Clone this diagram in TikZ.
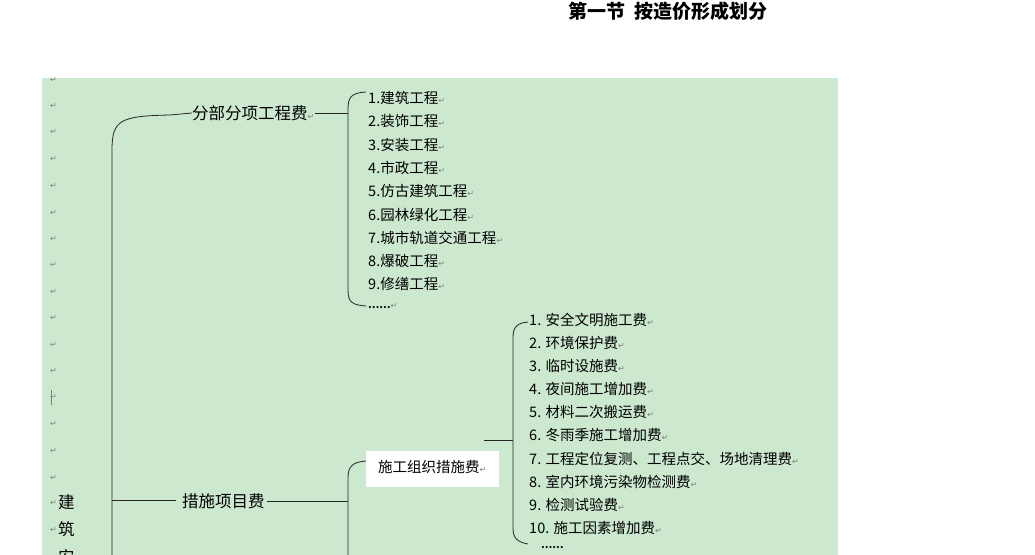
\documentclass[tikz,border=0pt]{standalone}
\usepackage{fontspec}
\setmainfont{Liberation Serif}
\newfontfamily\cjk{Noto Sans CJK SC}
\newfontfamily\dv{DejaVu Sans}
\begin{document}
\begin{tikzpicture}[x=1pt,y=-1pt,
  txt/.style={anchor=west,inner sep=0pt,font=\cjk\fontsize{14.5}{16}\selectfont},
  big/.style={anchor=west,inner sep=0pt,font=\cjk\fontsize{16.5}{18}\selectfont},
  ret/.style={anchor=west,inner sep=0pt,text=gray,font=\dv\fontsize{8}{9}\selectfont},
  ln/.style={line width=0.8pt,black!85}]
\useasboundingbox (0,0) rectangle (1035,554);
\clip (0,0) rectangle (1035,554);
\fill[white] (0,0) rectangle (1035,554);
\fill[fill={rgb,255:red,204;green,232;blue,207}] (42,78) rectangle (838,560);
\node[font=\cjk\bfseries\fontsize{19}{21}\selectfont,inner sep=0pt] (title) at (668,11) {第一节\ \ 按造价形成划分};
% left return marks
\foreach \y [count=\i] in {80,106,132,159,186,213,239,265,292,318,345,371,397,424,451,478,503,530}
  \node[ret] (r\i) at (50,\y) {↵};
\draw[gray,line width=0.5pt] (51,390)--(51,405);
\node[big] (jian) at (58,502) {建};
\node[big] (zhu) at (58,529) {筑};
\node[big] (an) at (58,557) {安};
% main nodes
\node[big] (fb) at (192,113) {分部分项工程费\textcolor{gray}{\dv\fontsize{8}{9}\selectfont↵}};
\node[big] (cs) at (182,501) {措施项目费};
\node[fill=white,inner sep=0pt,minimum width=133pt,minimum height=36pt] (zz) at (432,469) {};
\node[txt] (zzt) at (378,467) {施工组织措施费\textcolor{gray}{\dv\fontsize{8}{9}\selectfont↵}};
% big brace
\coordinate (b0) at (112,560);
\draw[ln] (b0) -- (112,150) .. controls (112,120) and (120,116) .. (170,115) -- (fb.west);
\draw[ln] (112,500) -- (176,500);
% 分部 brace
\draw[ln] (fb.east) -- (348,113);
\draw[ln] (366,92) .. controls (350,93) and (348,98) .. (348,110) -- (348,290) .. controls (348,302) and (352,305) .. (366,306);
\foreach \t [count=\i] in {1.建筑工程,2.装饰工程,3.安装工程,4.市政工程,5.仿古建筑工程,6.园林绿化工程,7.城市轨道交通工程,8.爆破工程,9.修缮工程}
  \node[txt] (a\i) at (368,98+23.3*\i-23.3) {\t\textcolor{gray}{\dv\fontsize{8}{9}\selectfont↵}};
\node[txt] (a10) at (368,306) {\textbf{\cjk\fontsize{10}{11}\selectfont ……}\textcolor{gray}{\dv\fontsize{8}{9}\selectfont↵}};
% 措施 brace
\draw[ln] (cs.east)++(2,0) -- (348,501);
\draw[ln] (366,461) .. controls (352,462) and (348,467) .. (348,478) -- (348,560);
\draw[ln] (484,440) -- (513,440);
\draw[ln] (528,322) .. controls (516,323) and (513,328) .. (513,338) -- (513,528) .. controls (513,538) and (517,542) .. (528,544);
\foreach \t [count=\i] in {1. 安全文明施工费,2. 环境保护费,3. 临时设施费,4. 夜间施工增加费,5. 材料二次搬运费,6. 冬雨季施工增加费,7. 工程定位复测、工程点交、场地清理费,8. 室内环境污染物检测费,9. 检测试验费,10. 施工因素增加费}
  \node[txt] (c\i) at (529,320+23.1*\i-23.1) {\t\textcolor{gray}{\dv\fontsize{8}{9}\selectfont↵}};
\node[txt] (c11) at (541,548) {\textbf{\cjk\fontsize{10}{11}\selectfont ……}};
\end{tikzpicture}
\end{document}
